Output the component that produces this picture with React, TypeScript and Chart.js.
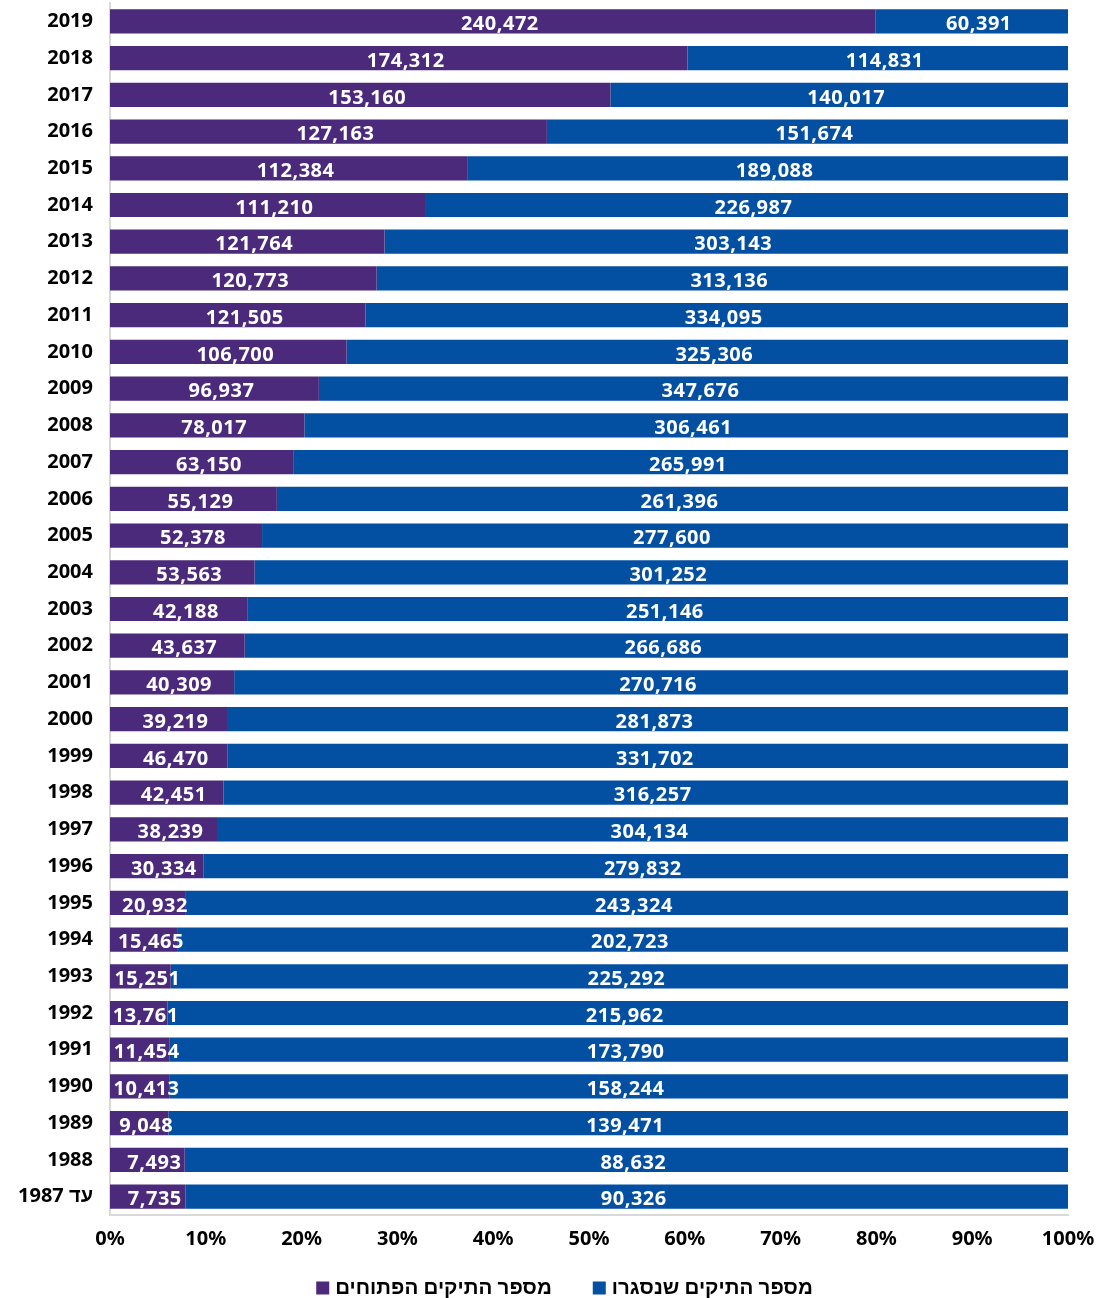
import React, { useEffect, useRef } from "react";
import { Chart, registerables } from "chart.js";

Chart.register(...registerables);

const categories = [
  "2019", "2018", "2017", "2016", "2015", "2014", "2013", "2012", "2011", "2010",
  "2009", "2008", "2007", "2006", "2005", "2004", "2003", "2002", "2001", "2000",
  "1999", "1998", "1997", "1996", "1995", "1994", "1993", "1992", "1991", "1990",
  "1989", "1988", "עד 1987",
];

const openCases = [
  240472, 174312, 153160, 127163, 112384, 111210, 121764, 120773, 121505, 106700,
  96937, 78017, 63150, 55129, 52378, 53563, 42188, 43637, 40309, 39219,
  46470, 42451, 38239, 30334, 20932, 15465, 15251, 13761, 11454, 10413,
  9048, 7493, 7735,
];

const closedCases = [
  60391, 114831, 140017, 151674, 189088, 226987, 303143, 313136, 334095, 325306,
  347676, 306461, 265991, 261396, 277600, 301252, 251146, 266686, 270716, 281873,
  331702, 316257, 304134, 279832, 243324, 202723, 225292, 215962, 173790, 158244,
  139471, 88632, 90326,
];

const xTicks = [0, 10, 20, 30, 40, 50, 60, 70, 80, 90, 100];

const openLabel = "מספר התיקים הפתוחים";
const closedLabel = "מספר התיקים שנסגרו";

const PURPLE = "#4b2a7b";
const BLUE = "#0350a3";
const FONT = "'Noto Sans', sans-serif";

const valueLabels = {
  id: "valueLabels",
  afterDatasetsDraw(chart: any) {
    const ctx = chart.ctx;
    ctx.save();
    ctx.font = `bold 20px ${FONT}`;
    (ctx as any).letterSpacing = "0.5px";
    ctx.fillStyle = "#ffffff";
    ctx.textAlign = "center";
    ctx.textBaseline = "middle";
    chart.data.datasets.forEach((ds: any, di: number) => {
      const meta = chart.getDatasetMeta(di);
      meta.data.forEach((el: any, i: number) => {
        const raw = ds.raw[i];
        const cx = (el.x + el.base) / 2;
        ctx.fillText(raw.toLocaleString("en-US"), cx + 7, el.y + 3);
      });
    });
    ctx.restore();
  },
};

const customLegend = {
  id: "customLegend",
  afterDraw(chart: any) {
    const ctx = chart.ctx;
    ctx.save();
    ctx.font = `bold 20.5px ${FONT}`;
    ctx.textBaseline = "middle";
    ctx.textAlign = "left";
    const box = 13;
    const gapBoxText = 6;
    const gapItems = 41;
    const items = chart.data.datasets.map((ds: any) => ({
      label: ds.label,
      color: ds.backgroundColor,
      w: box + gapBoxText + ctx.measureText(ds.label).width,
    }));
    const total = items.reduce((s: number, it: any) => s + it.w, 0) + gapItems * (items.length - 1);
    const centerX = chart.width / 2 + 15;
    const y = 1288;
    let x = centerX - total / 2;
    items.forEach((it: any) => {
      ctx.fillStyle = it.color;
      ctx.fillRect(x, y - box / 2, box, box);
      ctx.fillStyle = "#000";
      ctx.fillText(it.label, x + box + gapBoxText, y);
      x += it.w + gapItems;
    });
    ctx.restore();
  },
};

export default function App() {
  const ref = useRef<HTMLCanvasElement>(null);
  useEffect(() => {
    document.body.style.margin = "0";
    const totals = openCases.map((v, i) => v + closedCases[i]);
    const chart = new Chart(ref.current!, {
      type: "bar",
      data: {
        labels: categories,
        datasets: [
          {
            label: openLabel,
            data: openCases.map((v, i) => (v / totals[i]) * 100),
            raw: openCases,
            backgroundColor: PURPLE,
            barPercentage: 0.66,
            categoryPercentage: 1,
          } as any,
          {
            label: closedLabel,
            data: closedCases.map((v, i) => (v / totals[i]) * 100),
            raw: closedCases,
            backgroundColor: BLUE,
            barPercentage: 0.66,
            categoryPercentage: 1,
          } as any,
        ],
      },
      options: {
        indexAxis: "y",
        responsive: false,
        animation: false,
        layout: { padding: { top: 3, right: 31, left: 0, bottom: 0 } },
        scales: {
          x: {
            stacked: true,
            min: 0,
            max: 100,
            afterBuildTicks: (axis: any) => {
              axis.ticks = xTicks.map((v) => ({ value: v }));
            },
            grid: { display: false, drawTicks: false },
            border: { display: true, color: "#d9d9d9", width: 2 },
            ticks: {
              color: "#000",
              font: { family: FONT, size: 20, weight: "bold" },
              padding: 12,
              maxRotation: 0,
              callback: (v: any) => `${v}%`,
            },
            afterFit: (axis: any) => {
              axis.height = 83;
              axis.paddingLeft = 0;
              axis.paddingRight = 0;
            },
          },
          y: {
            stacked: true,
            grid: { display: false, drawTicks: false },
            border: { display: true, color: "#d9d9d9", width: 2 },
            ticks: {
              color: "#000",
              font: { family: FONT, size: 20, weight: "bold" },
              padding: 17,
              autoSkip: false,
            },
            afterFit: (axis: any) => {
              axis.width = 110;
              axis.paddingTop = 0;
              axis.paddingBottom = 0;
            },
          },
        },
        plugins: {
          legend: { display: false },
          tooltip: { enabled: false },
        },
      },
      plugins: [valueLabels, customLegend],
    });
    return () => chart.destroy();
  }, []);
  return <canvas ref={ref} width={1099} height={1298} style={{ display: "block" }} />;
}
